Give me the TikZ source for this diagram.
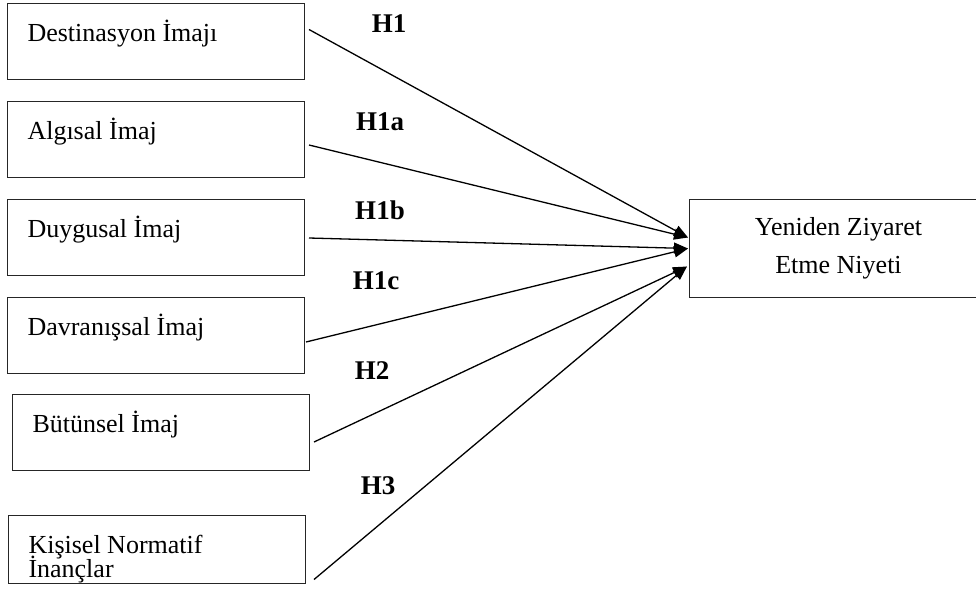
\documentclass[tikz,border=0pt]{standalone}
\usepackage{fontspec}
\setmainfont{Liberation Serif}
\usetikzlibrary{arrows.meta}
\newcommand{\boxtext}[2]{\parbox[c][#1][t]{257pt}{\lineskiplimit=-100pt\rule{0pt}{24pt}#2}}
\begin{document}
\begin{tikzpicture}[x=1pt,y=-1pt,var/.style={draw=black!85,line width=1pt,anchor=north west,inner xsep=20pt,inner ysep=14.2pt,font=\fontsize{26}{23.5}\selectfont},goal/.style={draw=black!85,line width=1pt,anchor=north west,minimum width=298pt,minimum height=98pt,align=center,font=\fontsize{26}{38}\selectfont},hyp/.style={font=\fontsize{27}{30}\selectfont\bfseries,inner sep=0pt},link/.style={line width=1.3pt,-{Triangle[length=14pt,width=11pt]}}]
\def\hb{47.6pt};
\def\hs{39.6pt};

\useasboundingbox (0,0) rectangle (976,594);

\node[var] (dest) at (7,3) {\boxtext{\hb}{Destinasyon İmajı}};
\node[var] (alg) at (7,101) {\boxtext{\hb}{Algısal İmaj}};
\node[var] (duy) at (7,199) {\boxtext{\hb}{Duygusal İmaj}};
\node[var] (dav) at (7,297) {\boxtext{\hb}{Davranışsal İmaj}};
\node[var] (but) at (12,394) {\boxtext{\hb}{Bütünsel İmaj}};
\node[var] (kis) at (8,515) {\boxtext{\hs}{Kişisel Normatif\\İnançlar}};

\node[goal] (yz) at (689,199) {Yeniden Ziyaret\\Etme Niyeti};
\coordinate (tA) at ([shift={(-1,-11)}]yz.west);
\coordinate (tB) at ([shift={(-1,0)}]yz.west);
\coordinate (tC) at ([shift={(-2,18)}]yz.west);

\node[hyp] (h1) at (389,24) {H1};
\node[hyp] (h1a) at (380,122) {H1a};
\node[hyp] (h1b) at (380,210) {H1b};
\node[hyp] (h1c) at (376,281) {H1c};
\node[hyp] (h2) at (372,371) {H2};
\node[hyp] (h3) at (378,486) {H3};

\draw[link] ([shift={(4,-12)}]dest.east) -- (tA);
\draw[link] ([shift={(4,5.5)}]alg.east) -- (tA);
\draw[link] ([shift={(4,0.5)}]duy.east) -- (tB);
\draw[link] ([shift={(1,6.5)}]dav.east) -- (tB);
\draw[link] ([shift={(4,9.5)}]but.east) -- (tC);
\draw[link] ([shift={(8,30)}]kis.east) -- (tC);
\end{tikzpicture}
\end{document}
